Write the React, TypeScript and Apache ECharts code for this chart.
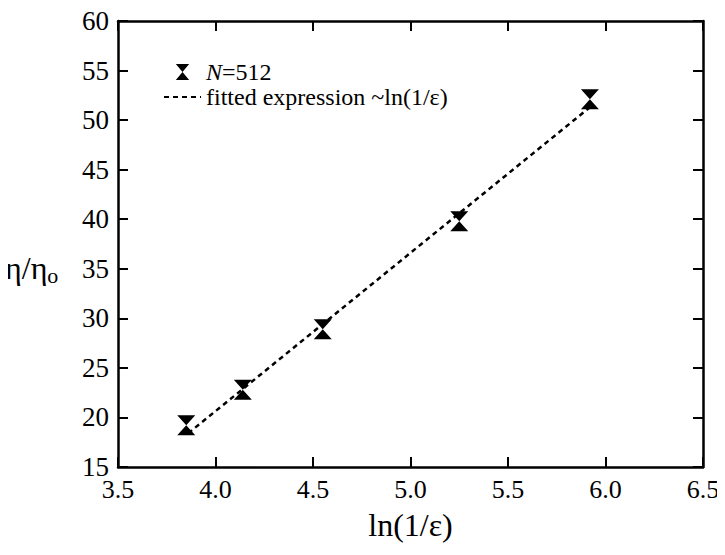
import React, { useEffect, useRef } from "react";
import * as echarts from "echarts";

const lnInvEps = [3.85, 4.14, 4.55, 5.25, 5.92];
const etaRatio = [19.2, 22.8, 28.9, 39.8, 52.1];
const fitX = [3.86, 5.92];
const fitY = [18.4, 51.3];
const xTicks = { min: 3.5, max: 6.5, interval: 0.5 };
const yTicks = { min: 15, max: 60, interval: 5 };

const FONT = "'Liberation Serif', 'Times New Roman', serif";
const HOURGLASS = "path://M0,0 L10,0 L5,6 Z M5,6 L10,12 L0,12 Z";

export default function App() {
  const ref = useRef<HTMLDivElement>(null);
  useEffect(() => {
    if (!ref.current) return;
    const chart = echarts.init(ref.current, undefined, { renderer: "svg" });
    const axisLine = { show: true, lineStyle: { color: "#000", width: 2.5 } };
    const tick = { show: true, inside: true, length: 10, lineStyle: { color: "#000", width: 2 } };
    chart.setOption({
      animation: false,
      backgroundColor: "#fff",
      textStyle: { fontFamily: FONT },
      grid: { left: 118, right: 22, top: 21, bottom: 88 },
      legend: {
        orient: "vertical",
        left: 158,
        top: 55,
        itemWidth: 37,
        itemHeight: 16,
        itemGap: 1,
        textStyle: {
          fontFamily: FONT,
          fontSize: 24,
          color: "#000",
          rich: { i: { fontFamily: FONT, fontSize: 24, fontStyle: "italic", color: "#000" } },
        },
        formatter: (name: string) => (name === "N=512" ? "{i|N}=512" : name),
        data: [
          { name: "N=512" },
          { name: "fitted expression ~ln(1/ε)", itemStyle: { opacity: 0 } },
        ],
      },
      xAxis: [
        {
          type: "value",
          ...xTicks,
          axisLine,
          axisTick: tick,
          splitLine: { show: false },
          axisLabel: {
            color: "#000",
            fontFamily: FONT,
            fontSize: 26,
            margin: 9,
            formatter: (v: number) => v.toFixed(1),
          },
          name: "ln(1/ε)",
          nameLocation: "middle",
          nameGap: 42,
          nameTextStyle: { color: "#000", fontFamily: FONT, fontSize: 32 },
        },
        {
          type: "value",
          position: "top",
          ...xTicks,
          axisLine,
          axisTick: tick,
          splitLine: { show: false },
          axisLabel: { show: false },
        },
      ],
      yAxis: [
        {
          type: "value",
          ...yTicks,
          axisLine,
          axisTick: tick,
          splitLine: { show: false },
          axisLabel: { color: "#000", fontFamily: FONT, fontSize: 27, margin: 9 },
        },
        {
          type: "value",
          position: "right",
          ...yTicks,
          axisLine,
          axisTick: tick,
          splitLine: { show: false },
          axisLabel: { show: false },
        },
      ],
      graphic: [
        {
          type: "text",
          left: 5,
          top: 252,
          style: {
            text: "η/η{s|o}",
            fontFamily: FONT,
            fontSize: 32,
            fill: "#000",
            rich: { s: { fontFamily: FONT, fontSize: 22, fill: "#000", padding: [14, 0, 0, 0] } },
          },
        },
      ],
      series: [
        {
          name: "fitted expression ~ln(1/ε)",
          type: "line",
          symbol: "none",
          showSymbol: false,
          data: fitX.map((x, i) => [x, fitY[i]]),
          lineStyle: { color: "#000", width: 2.5, type: [5, 4] },
          itemStyle: { color: "#000" },
          z: 2,
        },
        {
          name: "N=512",
          type: "scatter",
          symbol: HOURGLASS,
          symbolSize: [18, 20],
          data: lnInvEps.map((x, i) => [x, etaRatio[i]]),
          itemStyle: { color: "#000", opacity: 1 },
          z: 3,
        },
      ],
    });
    return () => chart.dispose();
  }, []);
  return <div ref={ref} style={{ width: 725, height: 555, margin: -8 }} />;
}
